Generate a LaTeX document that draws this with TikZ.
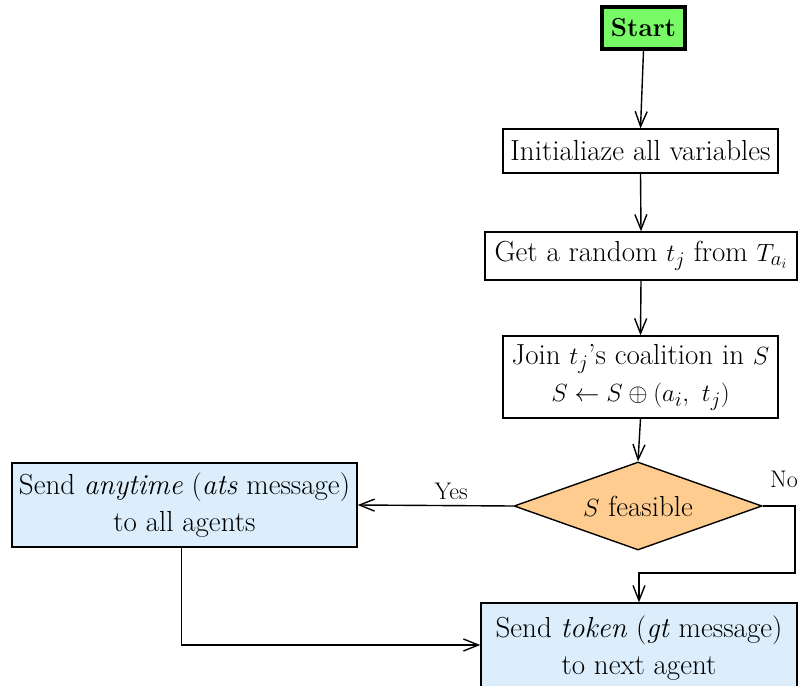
\documentclass[tikz,border=0pt]{standalone}
\usetikzlibrary{shapes.geometric,arrows.meta,calc}
\definecolor{startgreen}{RGB}{119,250,102}
\definecolor{decorange}{RGB}{255,204,143}
\definecolor{sendblue}{RGB}{220,238,252}
\begin{document}
\begin{tikzpicture}[x=1pt,y=-1pt,
  txt/.style={font=\fontsize{29}{37}\selectfont},
  procbox/.style={draw, line width=1.4pt, rectangle, inner sep=0pt, align=center, txt},
  sendbox/.style={procbox, fill=sendblue},
  decbox/.style={draw, line width=1.4pt, diamond, aspect=2.82, fill=decorange, inner sep=0pt, txt},
  startbox/.style={draw, line width=3.5pt, fill=startgreen, inner sep=0pt, font=\fontsize{26}{30}\selectfont\bfseries},
  arr/.style={line width=1.4pt, -{Straight Barb[length=15pt,width=12pt,line width=1.4pt]}},
  lbl/.style={font=\fontsize{24}{28}\selectfont}]
\useasboundingbox (0,0) rectangle (800,685);
\node[startbox, minimum width=83pt, minimum height=42pt] (start) at (643.5,28) {Start};
\node[procbox, minimum width=275pt, minimum height=44pt] (init) at (640.5,151) {Initialiaze all variables};
\node[procbox, minimum width=312pt, minimum height=48pt] (get) at (641,256) {Get a random $t_j$ from $T_{a_i}$};
\node[procbox, minimum width=275pt, minimum height=82pt] (join) at (640.5,377) {Join $t_j$'s coalition in $S$\\ $S\leftarrow S\oplus(a_i,\ t_j)$};
\node[decbox, minimum width=248pt, minimum height=88pt] (dec) at (638,506) {$S$ feasible};
\node[sendbox, minimum width=345pt, minimum height=84pt] (any) at (184.5,505) {Send \textit{anytime} (\textit{ats} message)\\ to all agents};
\node[sendbox, minimum width=316pt, minimum height=90pt] (tok) at (639,648) {Send \textit{token} (\textit{gt} message)\\ to next agent};
\coordinate (nc) at (795,573);
\coordinate (anyb) at ([xshift=-3pt]any.south);
\draw[arr] (start.south) -- (init.north);
\draw[arr] (init.south) -- (get.north);
\draw[arr] (get.south) -- (join.north);
\draw[arr] (join.south) -- (dec.north);
\draw[arr] (dec.west) -- node[lbl, above=2pt, pos=0.4] (yes) {Yes} (any.east);
\draw[arr] (dec.east) -| (nc) -- (nc -| tok.north) -- (tok.north);
\node[lbl] (no) at (784,479) {No};
\draw[arr] (anyb) |- ([yshift=3pt]tok.west);
\end{tikzpicture}
\end{document}
